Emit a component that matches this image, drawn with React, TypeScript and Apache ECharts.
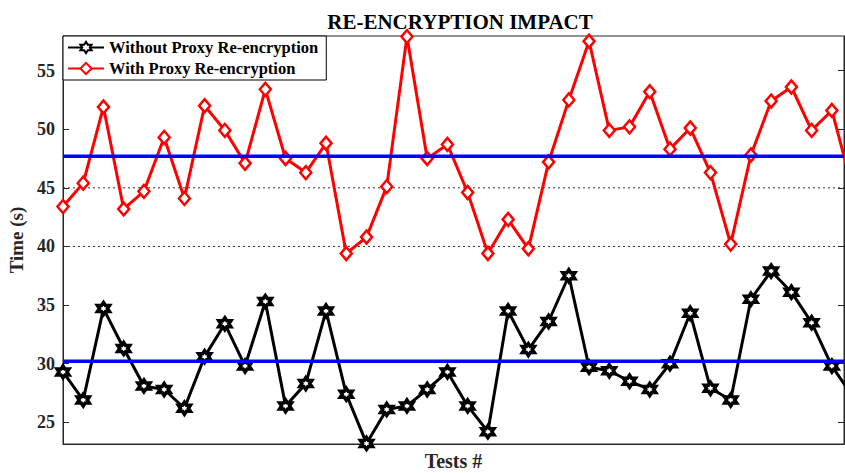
import React, { useEffect, useRef } from "react";
import * as echarts from "echarts";

const titleText = "RE-ENCRYPTION IMPACT";
const seriesNames = ["Without Proxy Re-encryption", "With Proxy Re-encryption"];
const yTicks = [25, 30, 35, 40, 45, 50, 55];
const dottedLevels = [40, 45];

// Test index 0..39 (axis is cropped just past the 39th test)
const withoutProxy = [
  29.3, 26.9, 34.7, 31.3, 28.1, 27.8, 26.2, 30.6, 33.4, 29.8,
  35.3, 26.4, 28.3, 34.5, 27.4, 23.2, 26.1, 26.4, 27.8, 29.3,
  26.4, 24.2, 34.5, 31.2, 33.6, 37.5, 29.7, 29.4, 28.5, 27.8,
  30.0, 34.3, 27.9, 26.9, 35.5, 37.9, 36.1, 33.5, 29.8, 27.3,
];
const withProxy = [
  43.4, 45.4, 51.9, 43.2, 44.7, 49.3, 44.1, 52.0, 49.9, 47.1,
  53.4, 47.5, 46.3, 48.8, 39.4, 40.8, 45.1, 57.9, 47.5, 48.7,
  44.6, 39.4, 42.3, 39.8, 47.2, 52.5, 57.5, 49.9, 50.2, 53.2,
  48.3, 50.1, 46.3, 40.2, 47.8, 52.4, 53.6, 49.9, 51.6, 45.1,
];
const meanWithout = 30.2;
const meanWith = 47.7;

const X_MIN = 0;
const X_MAX = 38.6;
const Y_MIN = 23.15;
const Y_MAX = 57.95;

const hexagram =
  "path://M10 0L12.89 5L18.66 5L15.77 10L18.66 15L12.89 15L10 20L7.11 15L1.34 15L4.23 10L1.34 5L7.11 5Z";

const serif = "'Liberation Serif', 'DejaVu Serif', serif";

export default function App() {
  const ref = useRef<HTMLDivElement>(null);

  useEffect(() => {
    document.body.style.margin = "0";
    const chart = echarts.init(ref.current!, null, { renderer: "svg" });
    const toPts = (arr: number[]) => arr.map((v, i) => [i, v]);
    const hLine = (v: number) => [
      [X_MIN, v],
      [X_MAX, v],
    ];

    chart.setOption({
      animation: false,
      backgroundColor: "#ffffff",
      title: {
        text: titleText,
        left: 455,
        textAlign: "center",
        top: 6,
        textStyle: { fontFamily: serif, fontWeight: "bold", fontSize: 21, color: "#000" },
      },
      legend: {
        data: seriesNames,
        orient: "vertical",
        left: 63,
        top: 36,
        padding: [3, 8, 3, 4],
        itemGap: 4,
        itemWidth: 36,
        itemHeight: 14,
        backgroundColor: "#ffffff",
        borderColor: "#000",
        borderWidth: 1,
        borderRadius: 0,
        textStyle: { fontFamily: serif, fontWeight: "bold", fontSize: 16.5, color: "#000" },
      },
      grid: {
        left: 63,
        right: 1,
        top: 36,
        bottom: 29,
        outerBoundsMode: "none",
        containLabel: false,
        show: true,
        borderColor: "#262626",
        borderWidth: 1,
        backgroundColor: "transparent",
      },
      xAxis: {
        type: "value",
        min: X_MIN,
        max: X_MAX,
        name: "Tests #",
        nameLocation: "middle",
        nameGap: 7,
        nameTextStyle: { fontFamily: serif, fontWeight: "bold", fontSize: 20, color: "#262626" },
        axisLine: { show: true, lineStyle: { color: "#262626", width: 1 } },
        axisTick: { show: false },
        axisLabel: { show: false },
        splitLine: { show: false },
      },
      yAxis: [
        {
          type: "value",
          min: Y_MIN,
          max: Y_MAX,
          name: "Time (s)",
          nameLocation: "middle",
          nameGap: 30,
          nameTextStyle: { fontFamily: serif, fontWeight: "bold", fontSize: 19, color: "#262626" },
          axisLine: { show: true, lineStyle: { color: "#262626", width: 1 } },
          axisTick: { show: true, inside: true, length: 6, customValues: yTicks, lineStyle: { color: "#262626" } },
          axisLabel: {
            show: true,
            customValues: yTicks,
            fontFamily: serif,
            fontWeight: "bold",
            fontSize: 18,
            color: "#262626",
            margin: 8,
          },
          splitLine: { show: false },
        },
        {
          type: "value",
          position: "right",
          min: Y_MIN,
          max: Y_MAX,
          axisLine: { show: true, lineStyle: { color: "#262626", width: 1 } },
          axisTick: { show: true, inside: true, length: 6, customValues: yTicks, lineStyle: { color: "#262626" } },
          axisLabel: { show: false },
          splitLine: { show: false },
        },
      ],
      series: [
        ...dottedLevels.map((lv) => ({
          type: "line",
          data: hLine(lv),
          symbol: "none",
          silent: true,
          z: 1,
          lineStyle: { color: "#333", width: 1, type: [2, 3] },
        })),
        {
          name: seriesNames[0],
          type: "line",
          data: toPts(withoutProxy),
          clip: true,
          z: 3,
          symbol: hexagram,
          symbolSize: 12,
          itemStyle: { color: "#ffffff", borderColor: "#000000", borderWidth: 3.5 },
          lineStyle: { color: "#000000", width: 3 },
        },
        {
          name: seriesNames[1],
          type: "line",
          data: toPts(withProxy),
          clip: true,
          z: 3,
          symbol: "diamond",
          symbolSize: [11, 13],
          itemStyle: { color: "#ffffff", borderColor: "#ff0000", borderWidth: 2.5 },
          lineStyle: { color: "#ff0000", width: 3 },
        },
        ...[meanWithout, meanWith].map((m) => ({
          type: "line",
          data: hLine(m),
          symbol: "none",
          silent: true,
          z: 4,
          lineStyle: { color: "#0000ff", width: 3.5 },
        })),
      ],
    });

    return () => chart.dispose();
  }, []);

  return <div ref={ref} style={{ width: 845, height: 473 }} />;
}
